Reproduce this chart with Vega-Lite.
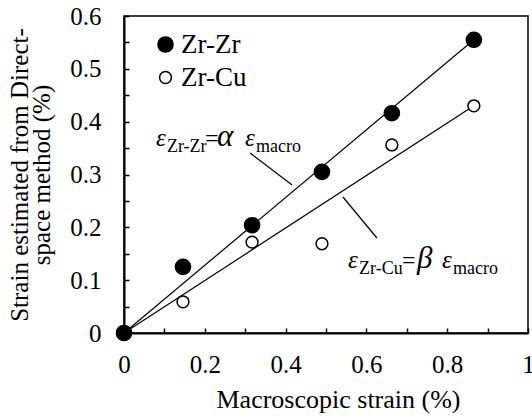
{
  "$schema": "https://vega.github.io/schema/vega-lite/v6.json",
  "width": 404,
  "height": 317,
  "autosize": "none",
  "padding": {"left": 124, "top": 16, "right": 4, "bottom": 87},
  "background": "white",
  "config": {
    "font": "Liberation Serif",
    "view": {"stroke": "black", "strokeWidth": 1.5},
    "text": {"font": "Liberation Serif"},
    "axis": {
      "grid": false,
      "domainColor": "black",
      "domainWidth": 2,
      "tickColor": "black",
      "tickWidth": 1.5,
      "labelColor": "black",
      "titleColor": "black",
      "titleFontWeight": "normal"
    },
    "legend": {"labelFont": "Liberation Serif"}
  },
  "datasets": {
    "pts": [
      {"series": "Zr-Cu", "x": 0, "y": 0},
      {"series": "Zr-Cu", "x": 0.146, "y": 0.059},
      {"series": "Zr-Cu", "x": 0.317, "y": 0.172},
      {"series": "Zr-Cu", "x": 0.49, "y": 0.169},
      {"series": "Zr-Cu", "x": 0.663, "y": 0.356},
      {"series": "Zr-Cu", "x": 0.866, "y": 0.43},
      {"series": "Zr-Zr", "x": 0, "y": 0},
      {"series": "Zr-Zr", "x": 0.146, "y": 0.125},
      {"series": "Zr-Zr", "x": 0.317, "y": 0.204},
      {"series": "Zr-Zr", "x": 0.49, "y": 0.305},
      {"series": "Zr-Zr", "x": 0.663, "y": 0.416},
      {"series": "Zr-Zr", "x": 0.866, "y": 0.555}
    ],
    "fits": [
      {"series": "Zr-Zr", "x": 0, "y": 0},
      {"series": "Zr-Zr", "x": 0.866, "y": 0.555},
      {"series": "Zr-Cu", "x": 0, "y": 0},
      {"series": "Zr-Cu", "x": 0.866, "y": 0.43}
    ],
    "leaders": [
      {"x": 0.312, "y": 0.3407, "x2": 0.416, "y2": 0.2801},
      {"x": 0.542, "y": 0.2574, "x2": 0.626, "y2": 0.1798}
    ],
    "ann": [
      {"role": "eps", "x": 0.0792, "y": 0.3539, "text": "ε"},
      {"role": "sub", "x": 0.1064, "y": 0.3426, "text": "Zr-Zr"},
      {"role": "eq", "x": 0.2005, "y": 0.3539, "text": "="},
      {"role": "greek", "x": 0.2302, "y": 0.3539, "text": "α"},
      {"role": "eps", "x": 0.2995, "y": 0.3539, "text": "ε"},
      {"role": "sub", "x": 0.3267, "y": 0.3426, "text": "macro"},
      {"role": "eps", "x": 0.5545, "y": 0.123, "text": "ε"},
      {"role": "sub", "x": 0.5817, "y": 0.1117, "text": "Zr-Cu"},
      {"role": "eq", "x": 0.6881, "y": 0.123, "text": "="},
      {"role": "greek", "x": 0.7252, "y": 0.123, "text": "β"},
      {"role": "eps", "x": 0.7871, "y": 0.123, "text": "ε"},
      {"role": "sub", "x": 0.8144, "y": 0.1117, "text": "macro"}
    ]
  },
  "encoding": {
    "x": {
      "field": "x", "type": "quantitative",
      "scale": {"domain": [0, 1], "nice": false, "zero": false},
      "axis": {
        "title": "Macroscopic strain (%)",
        "titleFont": "Liberation Serif",
        "titleFontSize": 26,
        "titleFontWeight": "normal",
        "titleColor": "black",
        "titleX": 214,
        "titleY": 74,
        "titleAlign": "center",
        "titleBaseline": "alphabetic",
        "labelFont": "Liberation Serif",
        "labelFontSize": 25,
        "labelColor": "black",
        "values": [0, 0.1, 0.2, 0.3, 0.4, 0.5, 0.6, 0.7, 0.8, 0.9, 1],
        "format": ".1~f",
        "labelExpr": "(round(datum.value*10) % 2 == 0) ? datum.label : ''",
        "tickSize": -5,
        "labelPadding": 24,
        "labelFlush": false,
        "labelOverlap": false
      }
    },
    "y": {
      "field": "y", "type": "quantitative",
      "scale": {"domain": [0, 0.6], "nice": false, "zero": false},
      "axis": {
        "title": ["Strain estimated from Direct-", "space method (%)"],
        "titleFont": "Liberation Serif",
        "titleFontSize": 25,
        "titleFontWeight": "normal",
        "titleColor": "black",
        "titleLineHeight": 22,
        "titleAngle": -90,
        "titleX": -97,
        "titleY": 158.5,
        "titleAlign": "center",
        "titleBaseline": "alphabetic",
        "labelFont": "Liberation Serif",
        "labelFontSize": 25,
        "labelColor": "black",
        "values": [0, 0.05, 0.1, 0.15, 0.2, 0.25, 0.3, 0.35, 0.4, 0.45, 0.5, 0.55, 0.6],
        "format": ".1~f",
        "labelExpr": "(round(datum.value*100) % 10 == 0) ? datum.label : ''",
        "tickSize": -5,
        "labelPadding": 28,
        "labelFlush": false,
        "labelOverlap": false
      }
    }
  },
  "layer": [
    {
      "data": {"name": "fits"},
      "mark": {"type": "line", "color": "black", "strokeWidth": 1.2},
      "encoding": {"detail": {"field": "series"}}
    },
    {
      "data": {"name": "leaders"},
      "mark": {"type": "rule", "color": "black", "strokeWidth": 1.2},
      "encoding": {
        "x2": {"field": "x2"},
        "y2": {"field": "y2"}
      }
    },
    {
      "data": {"name": "pts"},
      "mark": {"type": "point", "shape": "circle", "filled": true, "stroke": "black", "strokeWidth": 1.5, "opacity": 1},
      "encoding": {
        "fill": {
          "field": "series", "type": "nominal",
          "scale": {"domain": ["Zr-Zr", "Zr-Cu"], "range": ["black", "white"]},
          "legend": {"title": null, "orient": "none", "legendX": 28, "legendY": 15, "labelFont": "Liberation Serif", "labelFontSize": 27, "labelColor": "black", "labelOffset": 2, "rowPadding": 5,
            "encode": {"symbols": {"update": {"stroke": {"value": "black"}, "strokeWidth": {"value": 1.5}, "opacity": {"value": 1}}}}}
        },
        "size": {
          "field": "series", "type": "nominal",
          "scale": {"domain": ["Zr-Zr", "Zr-Cu"], "range": [230, 140]},
          "legend": {"title": null, "orient": "none", "legendX": 28, "legendY": 15, "labelFont": "Liberation Serif", "labelFontSize": 27, "labelColor": "black", "labelOffset": 2, "rowPadding": 5,
            "encode": {"symbols": {"update": {"stroke": {"value": "black"}, "strokeWidth": {"value": 1.5}, "opacity": {"value": 1}}}}}
        },
        "order": {"field": "series", "sort": "ascending"}
      }
    },
    {
      "data": {"name": "ann"},
      "transform": [{"filter": "datum.role == 'eps'"}],
      "mark": {"type": "text", "align": "left", "baseline": "alphabetic", "font": "Liberation Serif", "fontSize": 25, "fontStyle": "italic", "color": "black"},
      "encoding": {"text": {"field": "text"}}
    },
    {
      "data": {"name": "ann"},
      "transform": [{"filter": "datum.role == 'sub'"}],
      "mark": {"type": "text", "align": "left", "baseline": "alphabetic", "font": "Liberation Serif", "fontSize": 18, "color": "black"},
      "encoding": {"text": {"field": "text"}}
    },
    {
      "data": {"name": "ann"},
      "transform": [{"filter": "datum.role == 'eq'"}],
      "mark": {"type": "text", "align": "left", "baseline": "alphabetic", "font": "Liberation Serif", "fontSize": 24, "color": "black"},
      "encoding": {"text": {"field": "text"}}
    },
    {
      "data": {"name": "ann"},
      "transform": [{"filter": "datum.role == 'greek'"}],
      "mark": {"type": "text", "align": "left", "baseline": "alphabetic", "font": "Liberation Serif", "fontSize": 31, "fontStyle": "italic", "color": "black"},
      "encoding": {"text": {"field": "text"}}
    }
  ]
}
